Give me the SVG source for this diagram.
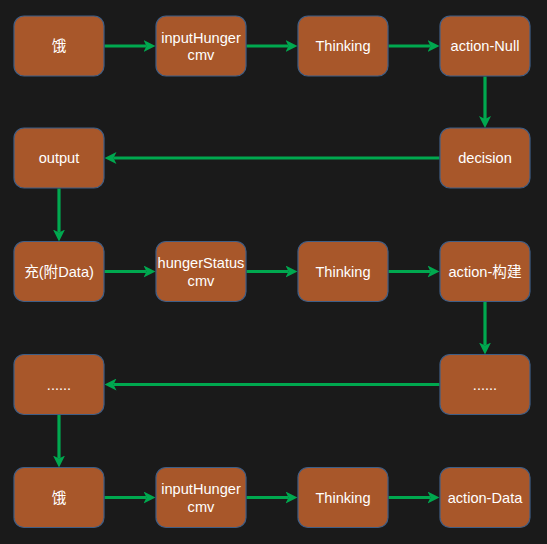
<svg xmlns="http://www.w3.org/2000/svg" width="547" height="544" viewBox="0 0 547 544">
<style>
.n rect{fill:#a8572a;stroke:#3f5e86;stroke-width:1.2}
.n text{fill:#ffffff;font-family:"Liberation Sans",Arial,"Noto Sans CJK SC",sans-serif;font-size:14.6px;text-anchor:middle}
.e line{stroke:#00a84f;stroke-width:3.2;fill:none}
</style>
<defs>
<marker id="ah" viewBox="0 0 12 12" refX="3" refY="6" markerWidth="12" markerHeight="12" markerUnits="userSpaceOnUse" orient="auto">
<path d="M0,0 L12,6 L0,12 L3,6 Z" fill="#00a84f"/>
</marker>
</defs>
<rect width="547" height="544" fill="#1a1a1a"/>
<g class="e">
<line x1="104.5" y1="46" x2="146.5" y2="46" marker-end="url(#ah)"/>
<line x1="246.5" y1="46" x2="288.5" y2="46" marker-end="url(#ah)"/>
<line x1="388.5" y1="46" x2="430.5" y2="46" marker-end="url(#ah)"/>
<line x1="485" y1="76.5" x2="485" y2="119" marker-end="url(#ah)"/>
<line x1="439.5" y1="158" x2="113.5" y2="158" marker-end="url(#ah)"/>
<line x1="59" y1="188.5" x2="59" y2="232.5" marker-end="url(#ah)"/>
<line x1="104.5" y1="271.5" x2="146.5" y2="271.5" marker-end="url(#ah)"/>
<line x1="246.5" y1="271.5" x2="288.5" y2="271.5" marker-end="url(#ah)"/>
<line x1="388.5" y1="271.5" x2="430.5" y2="271.5" marker-end="url(#ah)"/>
<line x1="485" y1="301.5" x2="485" y2="345.5" marker-end="url(#ah)"/>
<line x1="439.5" y1="384.5" x2="113.5" y2="384.5" marker-end="url(#ah)"/>
<line x1="59" y1="414.5" x2="59" y2="458.5" marker-end="url(#ah)"/>
<line x1="104.5" y1="497.5" x2="146.5" y2="497.5" marker-end="url(#ah)"/>
<line x1="246.5" y1="497.5" x2="288.5" y2="497.5" marker-end="url(#ah)"/>
<line x1="388.5" y1="497.5" x2="430.5" y2="497.5" marker-end="url(#ah)"/>
</g>
<g id="n1" class="n"><rect x="14" y="16" width="90" height="60" rx="10"/><text x="59" y="51">饿</text></g>
<g id="n2" class="n"><rect x="156" y="16" width="90" height="60" rx="10"/><text x="201" y="42.5">inputHunger</text><text x="201" y="60">cmv</text></g>
<g id="n3" class="n"><rect x="298" y="16" width="90" height="60" rx="10"/><text x="343" y="51">Thinking</text></g>
<g id="n4" class="n"><rect x="440" y="16" width="90" height="60" rx="10"/><text x="485" y="51">action-Null</text></g>
<g id="n5" class="n"><rect x="440" y="128" width="90" height="60" rx="10"/><text x="485" y="163">decision</text></g>
<g id="n6" class="n"><rect x="14" y="128" width="90" height="60" rx="10"/><text x="59" y="163">output</text></g>
<g id="n7" class="n"><rect x="14" y="241.5" width="90" height="60" rx="10"/><text x="59" y="276.5">充(附Data)</text></g>
<g id="n8" class="n"><rect x="156" y="241.5" width="90" height="60" rx="10"/><text x="201" y="268">hungerStatus</text><text x="201" y="285.5">cmv</text></g>
<g id="n9" class="n"><rect x="298" y="241.5" width="90" height="60" rx="10"/><text x="343" y="276.5">Thinking</text></g>
<g id="n10" class="n"><rect x="440" y="241.5" width="90" height="60" rx="10"/><text x="485" y="276.5">action-构建</text></g>
<g id="n11" class="n"><rect x="440" y="354.5" width="90" height="60" rx="10"/><text x="485" y="389.5">......</text></g>
<g id="n12" class="n"><rect x="14" y="354.5" width="90" height="60" rx="10"/><text x="59" y="389.5">......</text></g>
<g id="n13" class="n"><rect x="14" y="467.5" width="90" height="60" rx="10"/><text x="59" y="502.5">饿</text></g>
<g id="n14" class="n"><rect x="156" y="467.5" width="90" height="60" rx="10"/><text x="201" y="494">inputHunger</text><text x="201" y="511.5">cmv</text></g>
<g id="n15" class="n"><rect x="298" y="467.5" width="90" height="60" rx="10"/><text x="343" y="502.5">Thinking</text></g>
<g id="n16" class="n"><rect x="440" y="467.5" width="90" height="60" rx="10"/><text x="485" y="502.5">action-Data</text></g>
</svg>
